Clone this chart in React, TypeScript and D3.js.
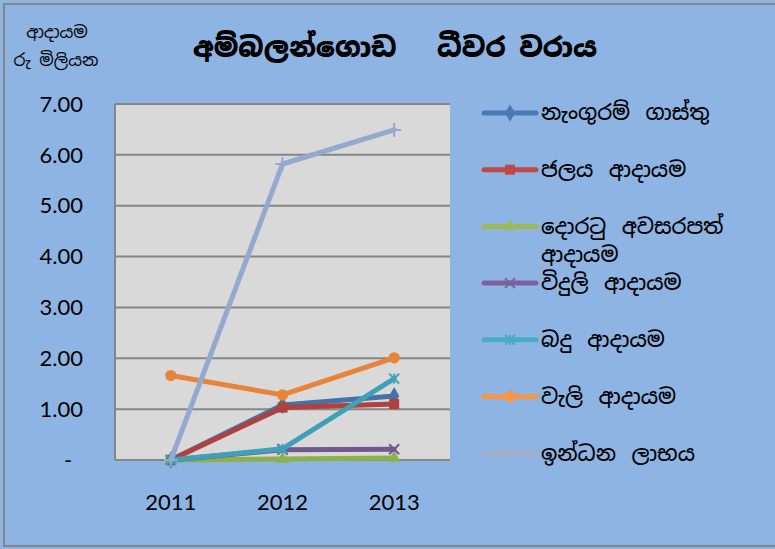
import React from "react";
import { scaleBand, scaleLinear, line, symbol, symbolDiamond, symbolSquare, symbolTriangle, symbolCircle } from "d3";

const years = ["2011", "2012", "2013"];
const seriesNames = [
  "නැංගුරම් ගාස්තු",
  "ජලය ආදායම",
  "දොරටු අවසරපත් ආදායම",
  "විදුලි ආදායම",
  "බදු ආදායම",
  "වැලි ආදායම",
  "ඉන්ධන ලාභය",
];
const anchorFees = [0, 1.08, 1.26];
const waterIncome = [0, 1.03, 1.1];
const gateIncome = [0, 0.02, 0.04];
const powerIncome = [0, 0.2, 0.21];
const taxIncome = [0, 0.22, 1.6];
const sandIncome = [1.66, 1.28, 2.01];
const fuelProfit = [0, 5.82, 6.49];
const yTicks = [0, 1, 2, 3, 4, 5, 6, 7];

const colors = ["#4572A7", "#B0413E", "#8DB04A", "#71588F", "#3FA0B8", "#E8843A", "#93A9D0"];
const legendColors = ["#4A7AB5", "#BE4B48", "#9BBB59", "#7D60A0", "#4BACC6", "#F79646", "#A3AFC9"];
const markers = ["diamond", "square", "triangle", "x", "star", "circle", "plus"];
const allSeries = [anchorFees, waterIncome, gateIncome, powerIncome, taxIncome, sandIncome, fuelProfit];

const sinhala = "'Noto Sans Sinhala', 'Iskoola Pota', 'Noto Sans', sans-serif";
const latin = "Lato, Carlito, 'Open Sans', sans-serif";

function Marker({ kind, x, y, color, size }: { kind: string; x: number; y: number; color: string; size: number }) {
  const s = size;
  if (kind === "x") {
    return (
      <g stroke={color} strokeWidth={2}>
        <line x1={x - s / 2} y1={y - s / 2} x2={x + s / 2} y2={y + s / 2} />
        <line x1={x - s / 2} y1={y + s / 2} x2={x + s / 2} y2={y - s / 2} />
      </g>
    );
  }
  if (kind === "star") {
    return (
      <g stroke={color} strokeWidth={2}>
        <line x1={x - s / 2} y1={y - s / 2} x2={x + s / 2} y2={y + s / 2} />
        <line x1={x - s / 2} y1={y + s / 2} x2={x + s / 2} y2={y - s / 2} />
        <line x1={x} y1={y - s / 2} x2={x} y2={y + s / 2} />
      </g>
    );
  }
  if (kind === "plus") {
    return (
      <g stroke={color} strokeWidth={2}>
        <line x1={x - s / 2 - 2} y1={y} x2={x + s / 2 + 2} y2={y} />
        <line x1={x} y1={y - s / 2 - 2} x2={x} y2={y + s / 2 + 2} />
      </g>
    );
  }
  const typeMap: any = { diamond: symbolDiamond, square: symbolSquare, triangle: symbolTriangle, circle: symbolCircle };
  const area = kind === "diamond" ? s * s * 0.9 : kind === "triangle" ? s * s * 0.7 : s * s;
  const d = symbol(typeMap[kind], area)() as string;
  return <path d={d} transform={`translate(${x},${y})`} fill={color} />;
}

export default function App() {
  const W = 775;
  const H = 549;
  const plot = { left: 115, right: 450, top: 104, bottom: 460 };

  const x = scaleBand().domain(years).range([plot.left, plot.right]);
  const cx = (yr: string) => (x(yr) as number) + x.bandwidth() / 2;
  const y = scaleLinear().domain([0, 7]).range([plot.bottom, plot.top]);

  const path = line<number>()
    .x((_, i) => cx(years[i]))
    .y((d) => y(d));

  const legendTop = 113;
  const legendStep = 56.7;

  return (
    <svg width={W} height={H} style={{ position: "absolute", left: 0, top: 0 }}>
      <rect x={0} y={0} width={W} height={H} fill="#8EB4E3" />
      <rect x={4} y={4} width={W + 10} height={H - 7} fill="none" stroke="#868686" strokeWidth={2} />

      <rect x={plot.left} y={plot.top} width={plot.right - plot.left} height={plot.bottom - plot.top} fill="#D9D9D9" />
      {yTicks.map((t) => (
        <line key={t} x1={plot.left} x2={plot.right} y1={y(t)} y2={y(t)} stroke="#868686" strokeWidth={2} />
      ))}
      <line x1={plot.left} x2={plot.left} y1={plot.top} y2={plot.bottom} stroke="#868686" strokeWidth={2} />

      {yTicks.map((t) => (
        <text
          key={t}
          x={t === 0 ? 68 : 83}
          y={y(t)}
          dy="0.35em"
          textAnchor={t === 0 ? "middle" : "end"}
          fontFamily={latin}
          fontSize={22}
          fill="#000"
        >
          {t === 0 ? "-" : t.toFixed(2)}
        </text>
      ))}
      {years.map((yr) => (
        <text key={yr} x={cx(yr)} y={510} textAnchor="middle" fontFamily={latin} fontSize={22} fill="#000">
          {yr}
        </text>
      ))}

      {allSeries.map((vals, i) => (
        <g key={seriesNames[i]}>
          <path d={path(vals) as string} fill="none" stroke={colors[i]} strokeWidth={5} strokeLinejoin="round" strokeLinecap="round" />
          {vals.map((v, j) => (
            <Marker key={j} kind={markers[i]} x={cx(years[j])} y={y(v)} color={colors[i]} size={10} />
          ))}
        </g>
      ))}

      <text x={395} y={57} textAnchor="middle" fontFamily={sinhala} fontWeight="900" fontSize={27} fill="#000">
        අම්බලන්ගොඩ&#160;&#160;&#160;ධීවර වරාය
      </text>
      <text x={57} y={38} textAnchor="middle" fontFamily={sinhala} fontSize={17} fill="#000">
        ආදායම
      </text>
      <text x={56} y={66} textAnchor="middle" fontFamily={sinhala} fontSize={17} fill="#000">
        රු මිලියන
      </text>

      {seriesNames.map((name, i) => {
        const ly = legendTop + i * legendStep;
        const parts = i === 2 ? ["දොරටු අවසරපත්", "ආදායම"] : [name];
        return (
          <g key={name}>
            <line x1={484} x2={536} y1={ly} y2={ly} stroke={legendColors[i]} strokeWidth={5} strokeLinecap="round" />
            <Marker kind={markers[i]} x={510} y={ly} color={legendColors[i]} size={10} />
            {parts.map((p, k) => (
              <text
                key={k}
                x={541}
                y={ly + k * 28}
                dy="0.35em"
                fontFamily={sinhala}
                fontSize={21}
                fontWeight={500}
                style={{ wordSpacing: "5px" }}
                fill="#000"
              >
                {p}
              </text>
            ))}
          </g>
        );
      })}
    </svg>
  );
}
